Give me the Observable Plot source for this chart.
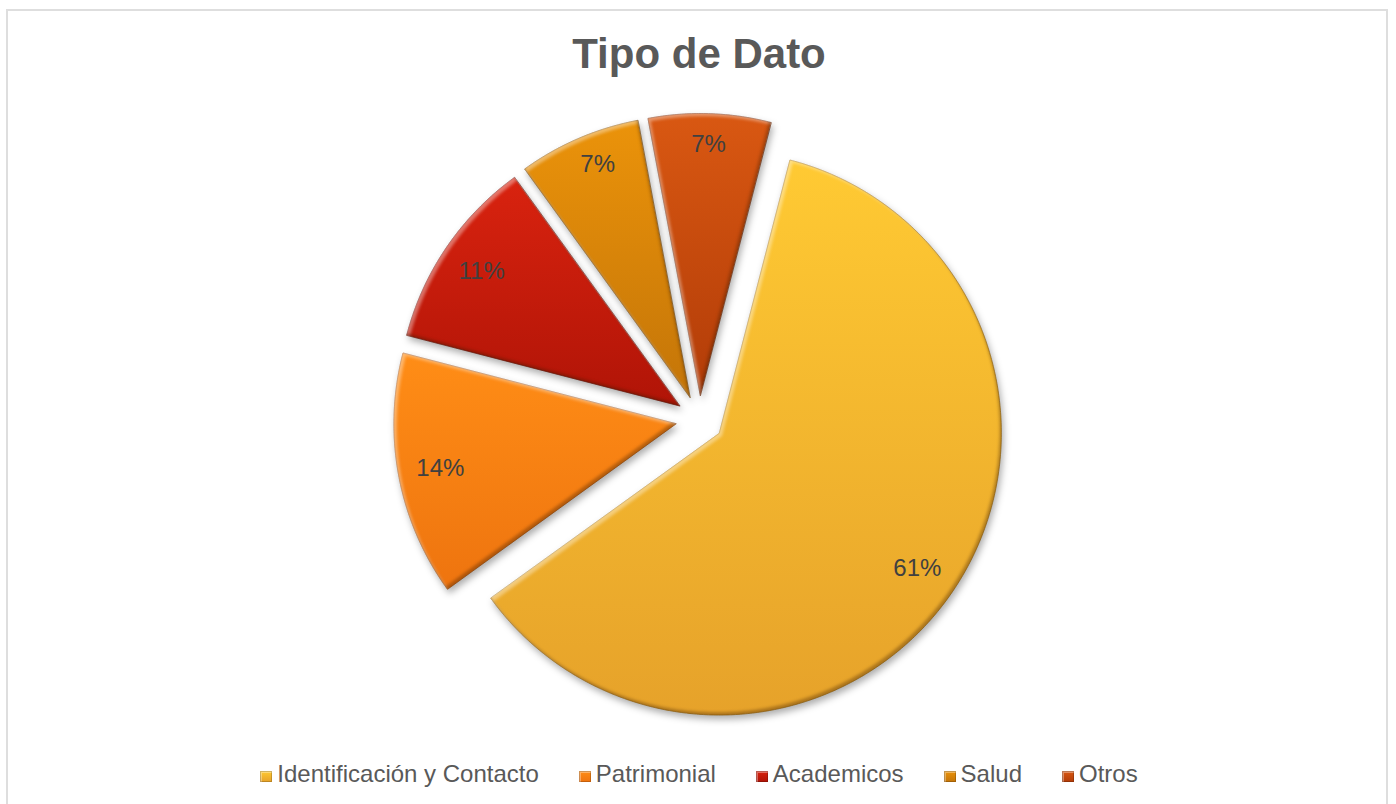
<!DOCTYPE html>
<html>
<head>
<meta charset="utf-8">
<script src="https://cdn.jsdelivr.net/npm/d3@7"></script>
<script src="https://cdn.jsdelivr.net/npm/@observablehq/plot@0.6"></script>
<style>
  html, body { margin: 0; padding: 0; background: #fff; width: 1396px; height: 804px; overflow: hidden; }
  body { position: relative; font-family: "Liberation Sans", Arial, sans-serif; }
  #frame { position: absolute; left: 6px; top: 9px; width: 1382px; height: 820px; border: 2px solid #dedede; box-sizing: border-box; }
  #title { position: absolute; left: 0; top: 33px; width: 1398px; text-align: center; font-size: 42px; line-height: 42px; font-weight: bold; color: #595959; }
  #chart { position: absolute; left: 0; top: 90px; }
  #legend { position: absolute; left: 0; top: 762px; width: 1398px; text-align: center; font-size: 24px; line-height: 24px; color: #595959; white-space: nowrap; }
  .item { display: inline-block; margin: 0 20px; }
  .sw { display: inline-block; width: 12px; height: 11px; margin-right: 5px; vertical-align: baseline; box-shadow: inset 0 0 0 1px rgba(0,0,0,0.18), inset 1px 1px 0 1px rgba(255,255,255,0.35); }
</style>
</head>
<body>
<div id="frame"></div>
<div id="title">Tipo de Dato</div>
<div id="chart"></div>
<div id="legend"></div>
<script>
// ---- data ----
const categories = ["Identificación y Contacto", "Patrimonial", "Academicos", "Salud", "Otros"];
const values = [61, 14, 11, 7, 7];
const labels = ["61%", "14%", "11%", "7%", "7%"];
// ---- styles ----
const colorTop = ["#FFCA33", "#FF8D16", "#D9230F", "#EB930A", "#D95812"];
const colorBottom = ["#E6A22A", "#EE740F", "#B01407", "#C47508", "#B23C08"];
const colorEdge = ["#A87410", "#A8500A", "#700C05", "#855006", "#762805"];

const W = 1396, H = 650;
const R = 282;            // pixel radius
const CX = 699, CY = 329; // pie centre inside svg
const explode = 24 / R;   // explosion offset in radius units
const rotation = 14.5 * Math.PI / 180;

const arcs = d3.pie().sort(null).startAngle(rotation).endAngle(rotation + 2 * Math.PI)(values);

const slices = arcs.map((a, i) => {
  const mid = (a.startAngle + a.endAngle) / 2;
  const ox = Math.sin(mid) * explode, oy = Math.cos(mid) * explode;
  const pts = [{x: ox, y: oy}];
  const n = Math.max(8, Math.ceil((a.endAngle - a.startAngle) / (Math.PI / 360)));
  for (let k = 0; k <= n; k++) {
    const t = a.startAngle + (a.endAngle - a.startAngle) * k / n;
    pts.push({x: ox + Math.sin(t), y: oy + Math.cos(t)});
  }
  const lr = i === 0 ? 0.85 : (values[i] < 10 ? 0.89 : 0.85);
  const lm = mid + (i === 3 ? 0.03 : 0);
  return {i, pts, label: {x: ox + Math.sin(lm) * lr, y: oy + Math.cos(lm) * lr, text: labels[i]}};
});

const plot = Plot.plot({
  width: W, height: H,
  margin: 0,
  x: {domain: [-CX / R, (W - CX) / R], axis: null},
  y: {domain: [-(H - CY) / R, CY / R], axis: null},
  marks: [
    ...slices.map(s => Plot.line(s.pts, {
      x: "x", y: "y",
      fill: `url(#grad${s.i})`,
      stroke: colorEdge[s.i], strokeWidth: 0.8, strokeOpacity: 0.8,
      curve: "linear-closed"
    })),
    Plot.text(slices.map(s => s.label), {
      x: "x", y: "y", text: "text",
      fontSize: 24, fill: "#404040", fontFamily: "Liberation Sans, Arial, sans-serif",
      textAnchor: "middle", lineAnchor: "middle"
    })
  ]
});

// gradients, bevel & shadow
const ns = "http://www.w3.org/2000/svg";
const defs = document.createElementNS(ns, "defs");
let html = `<filter id="bevel" x="-10%" y="-10%" width="130%" height="130%" color-interpolation-filters="sRGB">
  <feGaussianBlur in="SourceAlpha" stdDeviation="3.5" result="sb"/>
  <feOffset in="sb" dx="2" dy="4" result="sbo"/>
  <feFlood flood-color="#000" flood-opacity="0.32"/>
  <feComposite in2="sbo" operator="in" result="shadow"/>
  <feGaussianBlur in="SourceAlpha" stdDeviation="1.8" result="b"/>
  <feOffset in="b" dx="2.5" dy="3" result="bdr"/>
  <feComposite in="SourceAlpha" in2="bdr" operator="out" result="hiMask"/>
  <feFlood flood-color="#fff" flood-opacity="0.38"/>
  <feComposite in2="hiMask" operator="in" result="hi"/>
  <feOffset in="b" dx="-2.5" dy="-3" result="bul"/>
  <feComposite in="SourceAlpha" in2="bul" operator="out" result="loMask"/>
  <feFlood flood-color="#3a1a00" flood-opacity="0.35"/>
  <feComposite in2="loMask" operator="in" result="lo"/>
  <feMerge><feMergeNode in="shadow"/><feMergeNode in="SourceGraphic"/><feMergeNode in="hi"/><feMergeNode in="lo"/></feMerge>
</filter>`;
categories.forEach((c, i) => {
  html += `<linearGradient id="grad${i}" x1="0" y1="0" x2="0" y2="1"><stop offset="0" stop-color="${colorTop[i]}"/><stop offset="1" stop-color="${colorBottom[i]}"/></linearGradient>`;
});
defs.innerHTML = html;
plot.insertBefore(defs, plot.firstChild);
plot.querySelectorAll('g[aria-label="line"]').forEach(g => g.setAttribute("filter", "url(#bevel)"));
document.getElementById("chart").appendChild(plot);

// legend
const leg = document.getElementById("legend");
categories.forEach((c, i) => {
  const it = document.createElement("span");
  it.className = "item";
  it.innerHTML = `<span class="sw" style="background: linear-gradient(${colorTop[i]}, ${colorBottom[i]})"></span>${c}`;
  leg.appendChild(it);
});
</script>
</body>
</html>
